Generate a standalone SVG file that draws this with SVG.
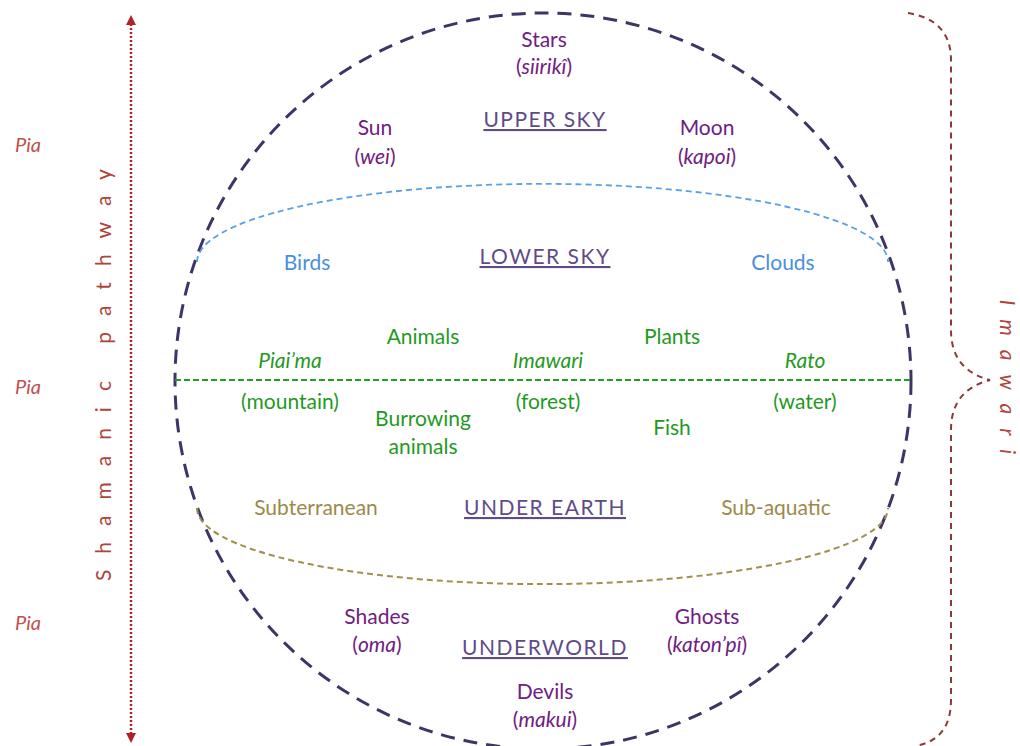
<svg xmlns="http://www.w3.org/2000/svg" width="1020" height="746" viewBox="0 0 1020 746">
  <defs>
    <marker id="tri" viewBox="0 0 10 10" refX="5" refY="5" markerWidth="4" markerHeight="4" orient="auto-start-reverse">
      <path d="M0,0 L10,5 L0,10 z" fill="#b22222"/>
    </marker>
    <style>
      text { font-family: Lato, "Liberation Sans", sans-serif; font-size: 21px; text-anchor: middle; }
      .pur { fill: #702082; }
      .layer { fill: #5f4b8b; letter-spacing: 1.5px; text-decoration: underline; }
      .blue { fill: #4a8fdd; }
      .green { fill: #1f9a1f; }
      .olive { fill: #9c8a4c; }
      .red { fill: #c0504d; font-style: italic; font-size: 20px; }
      .it { font-style: italic; }
    </style>
  </defs>
  <rect width="1020" height="746" fill="#ffffff"/>

  <g id="connectors" fill="none">
    <!-- cosmos boundary -->
    <circle cx="543" cy="381" r="368" stroke="#3d3566" stroke-width="3" stroke-dasharray="14 9"/>
    <!-- sky divide -->
    <path d="M197,262 A345,78 0 0 1 888,262" stroke="#5aa0e6" stroke-width="1.8" stroke-dasharray="6 4"/>
    <!-- earth surface -->
    <line x1="175" y1="380" x2="911" y2="380" stroke="#22a022" stroke-width="2" stroke-dasharray="6 3"/>
    <!-- under earth divide -->
    <path d="M197,508 A345,76 0 0 0 888,508" stroke="#a09050" stroke-width="2" stroke-dasharray="6 4"/>
    <!-- shamanic pathway -->
    <line x1="131" y1="20" x2="131" y2="738" stroke="#b22222" stroke-width="2.5" stroke-dasharray="2 2" marker-start="url(#tri)" marker-end="url(#tri)"/>
    <!-- brace -->
    <path d="M908,13 Q951,20 951,60 L951,330 Q951,370 990,380 Q951,390 951,430 L951,700 Q951,740 915,746" stroke="#8b3a3a" stroke-width="2" stroke-dasharray="6 5"/>
  </g>

  <g id="side-labels">
    <text class="red" x="28" y="152">Pia</text>
    <text class="red" x="28" y="394">Pia</text>
    <text class="red" x="28" y="630">Pia</text>
    <text transform="translate(111,367) rotate(-90)" fill="#b0433a" style="letter-spacing:16px">Shamanic pathway</text>
    <text transform="translate(1000,384) rotate(90)" fill="#b0433a" class="it" style="letter-spacing:14px">Imawari</text>
  </g>

  <g id="upper-sky">
    <text class="pur" x="544" y="47">Stars</text>
    <text class="pur" x="544" y="74">(<tspan class="it">siirikî</tspan>)</text>
    <text class="layer" x="545" y="127">UPPER SKY</text>
    <text class="pur" x="375" y="135">Sun</text>
    <text class="pur" x="375" y="164">(<tspan class="it">wei</tspan>)</text>
    <text class="pur" x="707" y="135">Moon</text>
    <text class="pur" x="707" y="164">(<tspan class="it">kapoi</tspan>)</text>
  </g>

  <g id="lower-sky">
    <text class="blue" x="307" y="270">Birds</text>
    <text class="layer" x="545" y="264">LOWER SKY</text>
    <text class="blue" x="783" y="270">Clouds</text>
  </g>

  <g id="earth">
    <text class="green" x="423" y="344">Animals</text>
    <text class="green" x="672" y="344">Plants</text>
    <text class="green it" x="290" y="368">Piai’ma</text>
    <text class="green it" x="548" y="368">Imawari</text>
    <text class="green it" x="805" y="368">Rato</text>
    <text class="green" x="290" y="409">(mountain)</text>
    <text class="green" x="548" y="409">(forest)</text>
    <text class="green" x="805" y="409">(water)</text>
    <text class="green" x="423" y="426">Burrowing</text>
    <text class="green" x="423" y="454">animals</text>
    <text class="green" x="672" y="435">Fish</text>
  </g>

  <g id="under-earth">
    <text class="olive" x="316" y="515">Subterranean</text>
    <text class="layer" x="545" y="515">UNDER EARTH</text>
    <text class="olive" x="776" y="515">Sub-aquatic</text>
  </g>

  <g id="underworld">
    <text class="pur" x="377" y="624">Shades</text>
    <text class="pur" x="377" y="652">(<tspan class="it">oma</tspan>)</text>
    <text class="layer" x="545" y="655">UNDERWORLD</text>
    <text class="pur" x="707" y="624">Ghosts</text>
    <text class="pur" x="707" y="652">(<tspan class="it">katon’pî</tspan>)</text>
    <text class="pur" x="545" y="699">Devils</text>
    <text class="pur" x="545" y="727">(<tspan class="it">makui</tspan>)</text>
  </g>
</svg>
